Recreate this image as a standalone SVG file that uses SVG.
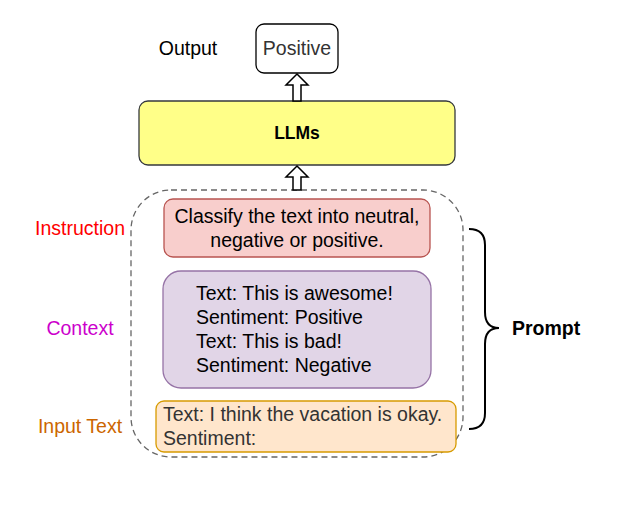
<svg xmlns="http://www.w3.org/2000/svg" width="619" height="509" viewBox="0 0 619 509">
<style>
text{font-family:"Liberation Sans",Arial,sans-serif;font-size:19.5px}
.c{text-anchor:middle}
.box{stroke-width:1.3}
.arrow{fill:#fff;stroke:#000;stroke-width:1.5}
</style>
<rect width="619" height="509" fill="#fff"/>
<g id="output-label"><text x="188" y="55" class="c" fill="#000">Output</text></g>
<g id="positive"><rect x="256" y="24" width="82" height="49" rx="8" fill="#fff" stroke="#000" class="box"/><text x="297" y="55" class="c" fill="#333">Positive</text></g>
<g id="llms"><rect x="139" y="101" width="316" height="64" rx="9" fill="#ffff88" stroke="#36393d" class="box"/><text x="297" y="139" class="c" font-weight="bold" style="font-size:17.5px">LLMs</text></g>
<g id="prompt-area"><rect x="131" y="190" width="332" height="267" rx="40" fill="none" stroke="#666" stroke-dasharray="6 4" stroke-width="1.3"/></g>
<g id="instruction"><rect x="164" y="199" width="266" height="58" rx="9" fill="#f8cecc" stroke="#b85450" class="box"/><text x="297" y="223" class="c">Classify the text into neutral,</text><text x="297" y="247" class="c">negative or positive.</text></g>
<g id="context"><rect x="163" y="271" width="268" height="117" rx="18" fill="#e1d5e7" stroke="#9673a6" class="box"/><text x="196" y="300">Text: This is awesome!</text><text x="196" y="324">Sentiment: Positive</text><text x="196" y="348">Text: This is bad!</text><text x="196" y="372">Sentiment: Negative</text></g>
<g id="input"><rect x="156" y="401" width="300" height="51" rx="8" fill="#ffe6cc" stroke="#d79b00" class="box"/><text x="163" y="421" fill="#333">Text: I think the vacation is okay.</text><text x="163" y="445" fill="#333">Sentiment:</text></g>
<g id="label-instruction"><text x="80" y="235" class="c" fill="#ff0000">Instruction</text></g>
<g id="label-context"><text x="80" y="335" class="c" fill="#cc00cc">Context</text></g>
<g id="label-input"><text x="80" y="433" class="c" fill="#cc6600">Input Text</text></g>
<g id="prompt-label"><text x="512" y="335" font-weight="bold">Prompt</text></g>
<g id="connectors">
<path class="arrow" d="M297,74 L308,85 L301,85 L301,101 L293,101 L293,85 L286,85 Z"/>
<path class="arrow" d="M297,166 L308,177 L301,177 L301,190 L293,190 L293,177 L286,177 Z"/>
<path d="M469,229 Q485,229 485,245 L485,312 Q485,328 499,328 Q485,328 485,344 L485,413 Q485,429 469,429" fill="none" stroke="#000" stroke-width="2"/>
</g>
</svg>
